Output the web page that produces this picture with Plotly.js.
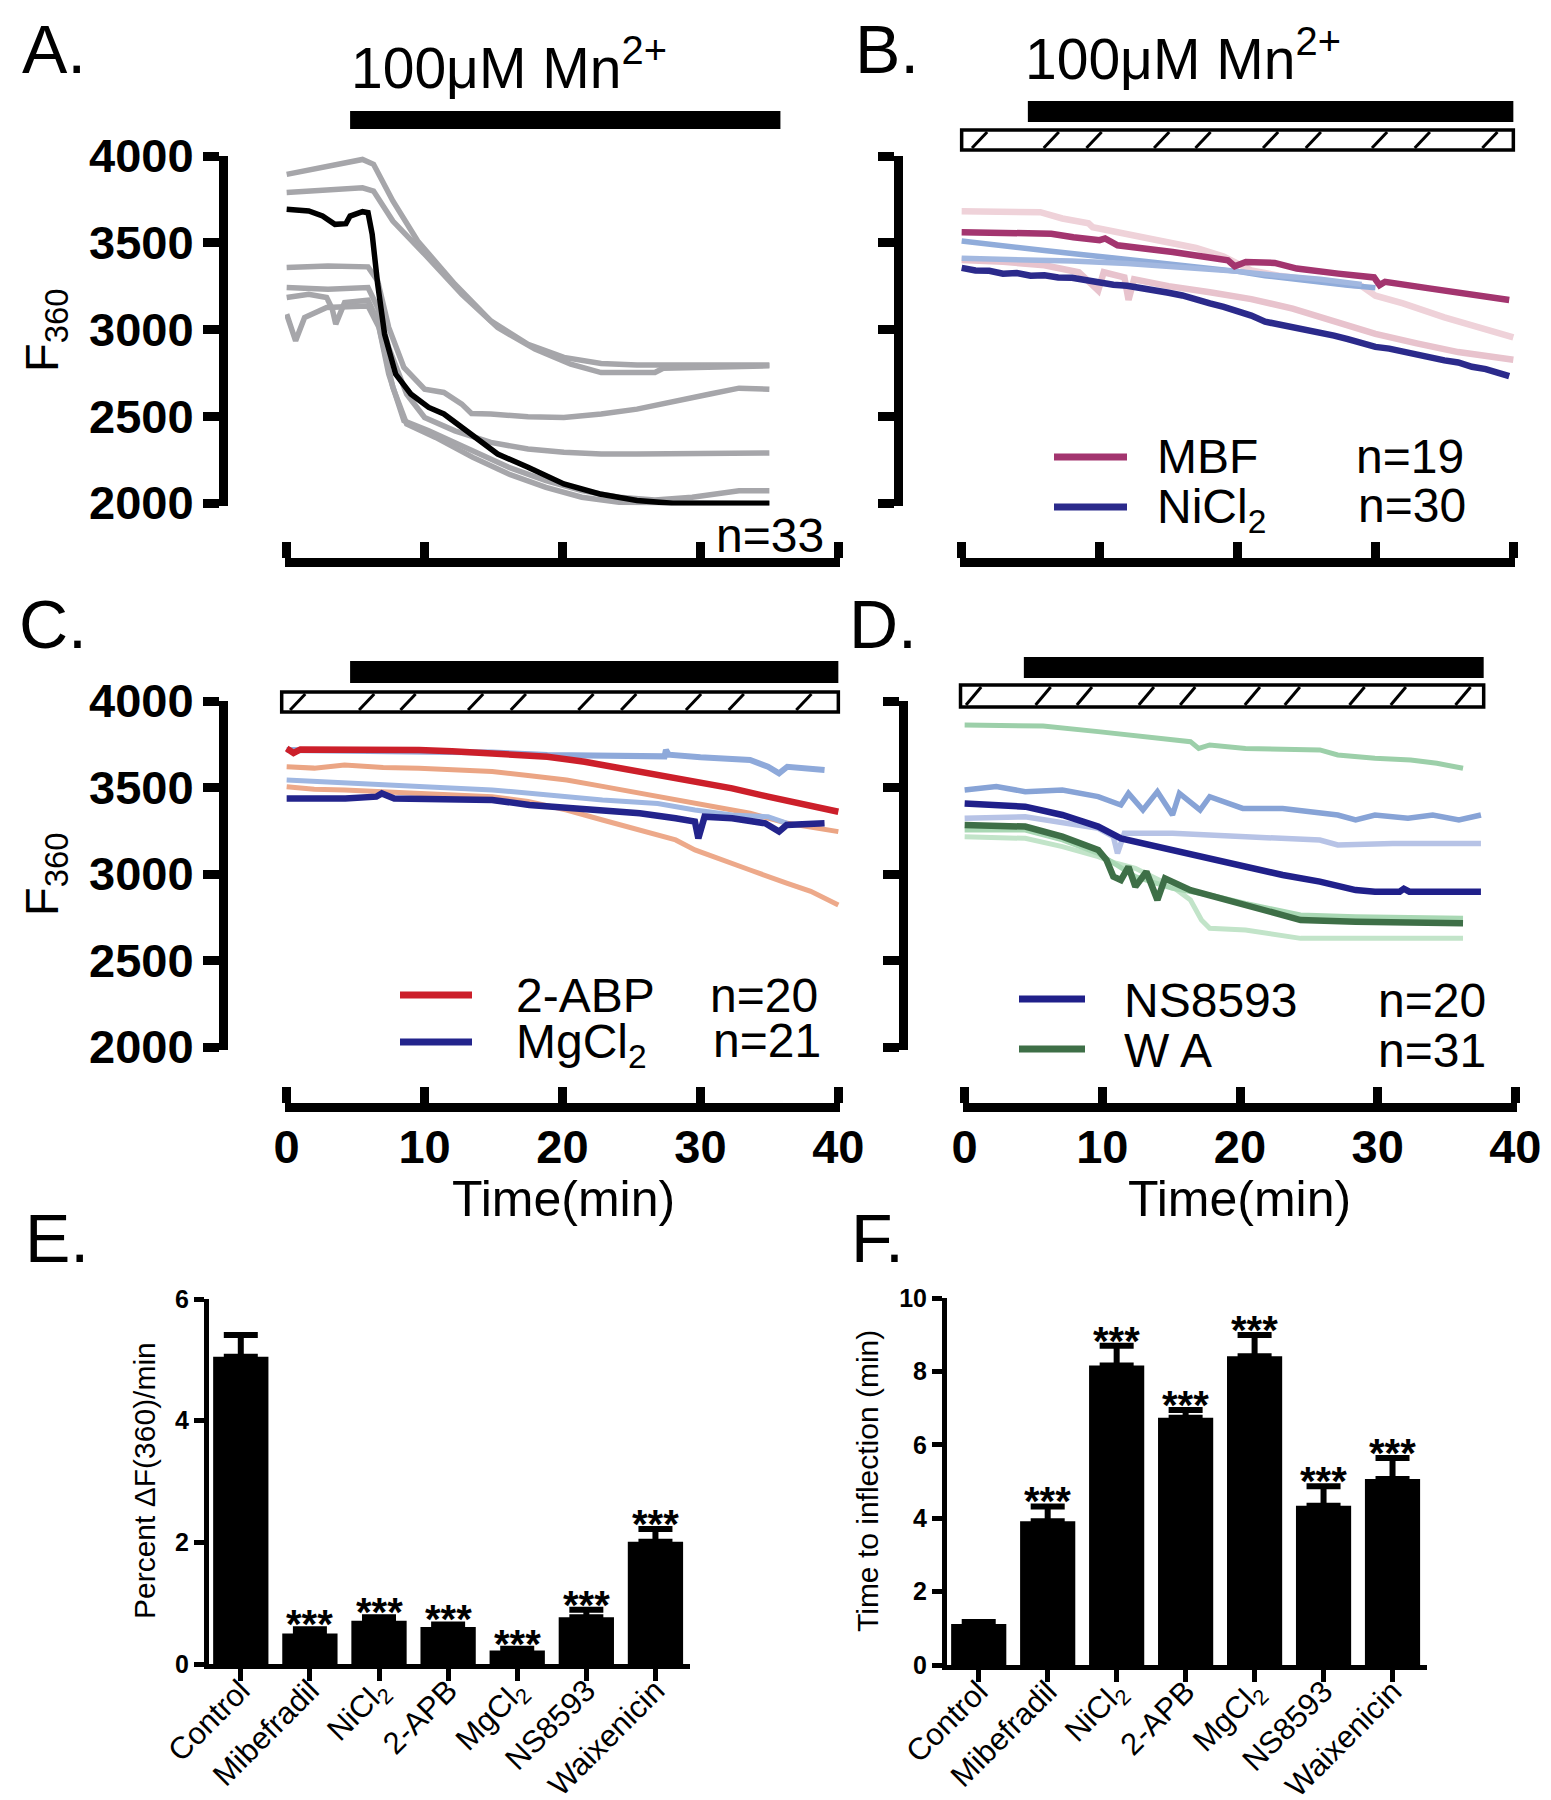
<!DOCTYPE html>
<html>
<head>
<meta charset="utf-8">
<script src="https://cdn.plot.ly/plotly-3.0.1.min.js"></script>
<style>
  body { margin: 0; background: #fff; }
  #fig { width: 1551px; height: 1800px; }
</style>
</head>
<body>
<div id="fig"></div>
<script>
// ---- panel A: control traces (time in min, F360) ----
const aGray1 = [[0,3894],[2.9,3936],[5.5,3980],[6.3,3952],[7.7,3741],[9.5,3510],[12.2,3261],[14.8,3050],[17.5,2915],[20.1,2839],[22.8,2804],[25.4,2796],[35,2796]];
const aGray2 = [[0,3789],[3,3800],[5.5,3817],[6.3,3798],[7.7,3625],[10,3434],[12.7,3203],[15.3,3011],[18,2887],[20.6,2800],[22.8,2752],[26.7,2752],[27.3,2777],[35,2791]];
const aGray3 = [[0,3357],[3,3366],[5.9,3361],[6.6,3280],[7.4,3012],[8.5,2781],[10,2656],[11.4,2637],[12.7,2570],[13.4,2516],[14.8,2513],[17.5,2497],[20.1,2493],[22.8,2513],[25.4,2541],[28,2580],[30.7,2628],[32.8,2662],[35,2656]];
const aGray4 = [[0,3242],[3,3232],[5.9,3242],[6.6,3127],[7.4,2896],[8.7,2628],[10,2493],[12.2,2416],[14.8,2349],[17.5,2311],[20.1,2292],[22.8,2282],[25.4,2282],[35,2288]];
const aGray5 = [[0,3184],[1.6,3203],[2.9,3184],[3.3,3120],[3.56,3031],[4.2,3155],[5.9,3169],[6.6,3050],[7.4,2743],[8.5,2474],[10.3,2416],[13.5,2302],[16.1,2206],[18.8,2129],[21.4,2071],[24.1,2033],[26.7,2017],[29.4,2033],[32.8,2071],[35,2071]];
const aGray6 = [[0,3088],[0.65,2935],[1.3,3069],[2.9,3127],[5.9,3136],[6.7,3012],[7.7,2666],[8.7,2455],[10.8,2378],[13.5,2263],[16.1,2167],[18.8,2090],[21.4,2033],[24.1,2004],[35,1995]];
const aBlack = [[0,3693],[1.6,3683],[2.6,3654],[3.5,3606],[4.3,3610],[4.6,3654],[5.5,3679],[5.9,3673],[6.2,3549],[6.6,3261],[7.1,2973],[7.9,2743],[9,2628],[10.3,2551],[11.4,2513],[12.7,2436],[14,2359],[15.3,2282],[17.5,2206],[20.1,2110],[22.7,2052],[25.4,2014],[28,1998],[35,1998]];

// ---- panel B: mibefradil / NiCl2 ----
const bPink1 = [[0,3681],[3,3680],[5.7,3676],[7.3,3640],[9.2,3612],[9.5,3590],[11,3565],[14,3520],[17,3470],[19,3420],[21,3340],[23,3310],[26,3280],[29,3250],[30,3195],[32,3150],[35,3070],[37.5,3010],[40,2955]];
const bPink2 = [[0,3400],[3,3390],[6,3370],[8.5,3330],[9.9,3225],[10.3,3330],[11.8,3300],[12.1,3170],[12.5,3290],[15,3250],[18,3215],[21,3175],[24,3120],[27,3050],[30,2975],[33,2920],[36,2870],[40,2826]];
const bBlue1 = [[0,3510],[3,3480],[6,3455],[9,3430],[12,3405],[15,3380],[18,3350],[20,3335],[22,3310],[24,3290],[26,3275],[28,3255],[30,3240]];
const bBlue2 = [[0,3410],[4,3405],[8,3395],[12,3380],[16,3360],[20,3335],[23,3310],[26,3290],[29,3260]];
const bMBF = [[0,3561],[3,3555],[6.5,3552],[8.1,3532],[10,3515],[10.4,3525],[11.3,3485],[15.3,3447],[19.3,3399],[19.8,3365],[20.6,3389],[22.7,3384],[24.3,3351],[27.3,3322],[29.9,3300],[30.3,3256],[30.7,3275],[33.9,3237],[37.1,3198],[39.7,3170]];
const bNi = [[0,3355],[1,3340],[2,3338],[3,3322],[4,3325],[5,3310],[6,3312],[7,3300],[8,3298],[9,3282],[10,3275],[11,3258],[12,3252],[13,3240],[14,3230],[15,3212],[16,3196],[17,3170],[18,3150],[19,3130],[20,3105],[21,3080],[22,3045],[23,3030],[24,3012],[25,3000],[26,2982],[27,2965],[28,2945],[29,2920],[30,2900],[31,2890],[32,2872],[33,2860],[34,2840],[35,2822],[36,2810],[37,2785],[38,2772],[39,2750],[39.7,2731]];

// ---- panel C: 2-APB / MgCl2 ----
const cSalmon1 = [[0,3620],[2,3612],[4.2,3630],[7,3615],[9.6,3611],[12,3600],[14.9,3592],[17.5,3570],[20.3,3543],[23,3505],[25.6,3466],[28.2,3428],[31,3389],[33.6,3351],[36.3,3293],[40,3245]];
const cSalmon2 = [[0,3505],[2,3490],[4.2,3486],[7,3475],[9.6,3466],[12,3455],[14.9,3447],[17.5,3420],[20.3,3370],[22.9,3312],[25.6,3254],[28.2,3197],[29.6,3139],[30.9,3100],[33.6,3023],[36.3,2946],[38,2900],[40,2821]];
const cBlue1 = [[0,3717],[3,3715],[6.9,3713],[10,3710],[14.9,3702],[18.9,3688],[22,3684],[25.6,3678],[27.4,3680],[27.5,3717],[27.7,3690],[30,3675],[33.6,3659],[34.9,3620],[35.7,3582],[36.3,3620],[39,3601]];
const cBlue2 = [[0,3543],[3,3530],[6.9,3515],[10,3505],[14.9,3486],[17,3470],[19,3457],[22.9,3428],[26.9,3408],[29.6,3370],[32.3,3341],[34.9,3331],[36.3,3293]];
const cRed = [[0,3726],[0.5,3700],[1,3720],[4.25,3721],[6,3715],[9.6,3717],[12,3710],[14.9,3698],[18.9,3678],[21.6,3649],[24.2,3611],[26.9,3572],[29.6,3534],[32.3,3495],[34.9,3447],[37.6,3399],[40,3360]];
const cMg = [[0,3437],[2,3435],[4.25,3437],[6.5,3447],[6.9,3466],[7.8,3437],[10,3432],[14.9,3428],[17.6,3399],[20.3,3380],[22.9,3370],[25.6,3351],[28.2,3322],[29.6,3303],[29.85,3206],[30.3,3331],[32.3,3322],[34.7,3293],[35.7,3245],[36.25,3283],[39,3293]];

// ---- panel D: NS8593 / waixenicin A ----
const dGreen1 = [[0,3861],[5.7,3855],[9.7,3823],[13.8,3784],[16.4,3765],[17,3726],[17.8,3746],[20.4,3726],[25.8,3717],[27.1,3688],[29.8,3669],[32.4,3659],[34.3,3640],[36.2,3611]];
const dBlue1 = [[0,3485],[2.3,3505],[4.4,3476],[7.1,3485],[9.7,3447],[11.35,3399],[11.9,3466],[12.95,3370],[14,3476],[15.1,3341],[15.6,3466],[17.1,3370],[17.8,3447],[20.2,3379],[23.1,3379],[27.1,3341],[28.4,3312],[29.8,3341],[32.2,3322],[34,3341],[35.9,3312],[37.5,3341]];
const dPale = [[0,3322],[4.4,3331],[9.7,3264],[10.8,3216],[11.1,3119],[11.6,3235],[15.1,3235],[20.4,3216],[25.8,3196],[27.1,3168],[31.1,3177],[37.5,3177]];
const dGreen2 = [[0,3216],[4.4,3206],[7.1,3158],[9.7,3100],[11,3062],[12.4,3033],[15.1,2927],[16.4,2850],[17.2,2734],[17.8,2686],[20.4,2676],[24.4,2628],[28.4,2628],[36.2,2628]];
const dGreen3 = [[0,3254],[4.4,3254],[7.1,3197],[9.7,3119],[12.4,2985],[15.1,2917],[17.8,2879],[20.4,2830],[24.4,2763],[28.4,2753],[36.2,2744]];
const dNS = [[0,3408],[2.3,3399],[4.4,3389],[7.1,3341],[9.7,3274],[11.35,3206],[12.4,3187],[15.1,3139],[17.8,3090],[20.4,3042],[23.1,2994],[25.8,2956],[28.4,2907],[29.8,2898],[31.6,2898],[31.9,2915],[32.3,2898],[37.5,2898]];
const dWA = [[0,3283],[4.4,3274],[7.1,3216],[9.7,3139],[10.3,3081],[10.8,2985],[11.35,2965],[11.9,3042],[12.4,2927],[13.2,3013],[14,2850],[14.55,2975],[16.4,2907],[19.1,2850],[21.8,2792],[24.4,2734],[28.4,2724],[32.4,2715],[36.2,2715]];

// ---- protocol bars (min) ----
const mnA = [4.6, 35.8], mnB = [4.8, 40], mnC = [4.6, 40], mnD = [4.3, 37.7];
const drugB = [0, 40], drugC = [-0.36, 40], drugD = [-0.3, 37.7];
const hatchB = [1.3, 6.5, 9.6, 14.5, 17.5, 22.4, 25.5, 30.3, 33.4, 38.3];
const hatchC = [0.8, 5.8, 8.8, 13.7, 16.8, 21.7, 24.8, 29.5, 32.6, 37.5];
const hatchD = [0.65, 5.7, 8.7, 13.2, 16.2, 20.9, 23.8, 28.5, 31.5, 36.2];

// ---- panels E / F ----
const groups = ['Control', 'Mibefradil', 'NiCl<sub>2</sub>', '2-APB', 'MgCl<sub>2</sub>', 'NS8593', 'Waixenicin'];
const rate = [5.05, 0.50, 0.71, 0.61, 0.22, 0.77, 2.01];
const rateErr = [0.36, 0.07, 0.06, 0.04, 0.03, 0.12, 0.21];
const inflect = [1.12, 3.92, 8.16, 6.74, 8.41, 4.34, 5.07];
const inflectErr = [0.05, 0.40, 0.54, 0.21, 0.58, 0.53, 0.57];
const stars = ['', '***', '***', '***', '***', '***', '***'];

const W = 1551, H = 1800;
const fx = p => p / W;
const fy = p => 1 - p / H;
const FONT = 'Liberation Sans, Arial, sans-serif';
const XR = [-0.12, 40.12];   // a hair wider than 0-40 so the end ticks are kept
const dom = t => (t - XR[0]) / (XR[1] - XR[0]);

function trace(pts, color, width, xa, ya) {
    return {
        type: 'scatter', mode: 'lines',
        x: pts.map(p => p[0]), y: pts.map(p => p[1]),
        xaxis: xa, yaxis: ya,
        line: { color: color, width: width },
        hoverinfo: 'skip', showlegend: false
    };
}

const GRAY = '#a6a6aa';
const data = [
    trace(aGray1, GRAY, 5.5, 'x', 'y'),
    trace(aGray2, GRAY, 5.5, 'x', 'y'),
    trace(aGray3, GRAY, 5.5, 'x', 'y'),
    trace(aGray4, GRAY, 5.5, 'x', 'y'),
    trace(aGray5, GRAY, 5.5, 'x', 'y'),
    trace(aGray6, GRAY, 5.5, 'x', 'y'),
    trace(aBlack, '#000000', 5.5, 'x', 'y'),

    trace(bPink1, '#efd2d9', 6.5, 'x2', 'y2'),
    trace(bPink2, '#e8c3cd', 6.5, 'x2', 'y2'),
    trace(bBlue1, '#90acda', 5.5, 'x2', 'y2'),
    trace(bBlue2, '#a2b8e0', 5.5, 'x2', 'y2'),
    trace(bMBF, '#a3356f', 6.5, 'x2', 'y2'),
    trace(bNi, '#2b2a8b', 6.5, 'x2', 'y2'),

    trace(cSalmon1, '#eba584', 5, 'x3', 'y3'),
    trace(cSalmon2, '#eda98a', 5, 'x3', 'y3'),
    trace(cBlue1, '#8ea9da', 6, 'x3', 'y3'),
    trace(cBlue2, '#9fb7e2', 5, 'x3', 'y3'),
    trace(cRed, '#cc1f2a', 6.5, 'x3', 'y3'),
    trace(cMg, '#23248c', 6.5, 'x3', 'y3'),

    trace(dGreen1, '#9ccfa9', 5, 'x4', 'y4'),
    trace(dGreen2, '#c2e4c9', 5, 'x4', 'y4'),
    trace(dGreen3, '#a9d8b4', 5, 'x4', 'y4'),
    trace(dBlue1, '#87a3d6', 5.5, 'x4', 'y4'),
    trace(dPale, '#b7c3e6', 5.5, 'x4', 'y4'),
    trace(dWA, '#3e6f47', 6.5, 'x4', 'y4'),
    trace(dNS, '#20208a', 6.5, 'x4', 'y4'),

    {
        type: 'bar', x: [0, 1, 2, 3, 4, 5, 6], y: rate, xaxis: 'x5', yaxis: 'y5',
        width: 0.8, marker: { color: '#000' }, hoverinfo: 'skip', showlegend: false,
        error_y: { type: 'data', array: rateErr, arrayminus: rate.map(() => 0), symmetric: false,
                   color: '#000', thickness: 6, width: 17 }
    },
    {
        type: 'bar', x: [0, 1, 2, 3, 4, 5, 6], y: inflect, xaxis: 'x6', yaxis: 'y6',
        width: 0.8, marker: { color: '#000' }, hoverinfo: 'skip', showlegend: false,
        error_y: { type: 'data', array: inflectErr, arrayminus: inflect.map(() => 0), symmetric: false,
                   color: '#000', thickness: 6, width: 17 }
    }
];

// time axes of the trace panels
function timeAxis(left, right, yLine, labels) {
    return {
        domain: [fx(left), fx(right)], range: XR, anchor: 'free', position: fy(yLine),
        showline: true, linewidth: 9, linecolor: '#000',
        ticks: 'inside', ticklen: 16, tickwidth: 9, tickcolor: '#000',
        tickvals: [0, 10, 20, 30, 40], showticklabels: labels, ticklabelstandoff: -5,
        tickfont: { family: FONT, size: 47, weight: 'bold', color: '#000' },
        showgrid: false, zeroline: false
    };
}
function fluoAxis(top, bottom, xLine, labels) {
    const per = (bottom - top) / 2000;
    return {
        domain: [fy(bottom + 15 * per), fy(top)], range: [1985, 4000], anchor: 'free', position: fx(xLine),
        showline: true, linewidth: 9, linecolor: '#000',
        ticks: 'outside', ticklen: 16, tickwidth: 9, tickcolor: '#000',
        tickvals: [2000, 2500, 3000, 3500, 4000], showticklabels: labels,
        tickfont: { family: FONT, size: 47, weight: 'bold', color: '#000' },
        showgrid: false, zeroline: false
    };
}
function catAxis(left, right, yAx) {
    return {
        domain: [fx(left), fx(right)], range: [-0.46, 6.5], anchor: yAx,
        showline: true, linewidth: 5, linecolor: '#000',
        ticks: 'outside', ticklen: 12, tickwidth: 5, tickcolor: '#000',
        tickvals: [0, 1, 2, 3, 4, 5, 6], ticktext: groups, tickangle: -45,
        ticklabelstandoff: -21,
        tickfont: { family: FONT, size: 31, color: '#000' },
        showgrid: false, zeroline: false
    };
}
function valAxis(bottom, top, xAx, max, step) {
    const vals = [];
    for (let v = 0; v <= max; v += step) vals.push(v);
    return {
        domain: [fy(bottom), fy(top)], range: [0, max], anchor: xAx,
        showline: true, linewidth: 5, linecolor: '#000',
        ticks: 'outside', ticklen: 10, tickwidth: 5, tickcolor: '#000',
        tickvals: vals, tickfont: { family: FONT, size: 25, weight: 'bold', color: '#000' },
        showgrid: false, zeroline: false
    };
}

// protocol bars (Mn2+ black bar, hatched drug bar)
const shapes = [];
function blackBar(xa, span, y0, y1) {
    shapes.push({ type: 'rect', xref: xa + ' domain', yref: 'paper',
        x0: dom(span[0]), x1: dom(span[1]), y0: fy(y1), y1: fy(y0),
        fillcolor: '#000', line: { width: 0 } });
}
function hatchBar(xa, span, ticks, y0, y1) {
    shapes.push({ type: 'rect', xref: xa + ' domain', yref: 'paper',
        x0: dom(span[0]), x1: dom(span[1]), y0: fy(y1), y1: fy(y0),
        fillcolor: '#fff', line: { color: '#000', width: 3.5 } });
    ticks.forEach(t => shapes.push({ type: 'line', xref: xa + ' domain', yref: 'paper',
        x0: dom(t - 0.55), x1: dom(t + 0.55), y0: fy(y1 - 2), y1: fy(y0 + 2),
        line: { color: '#000', width: 3 } }));
}
blackBar('x', mnA, 111, 129);
blackBar('x2', mnB, 101, 122);
hatchBar('x2', drugB, hatchB, 130, 150);
blackBar('x3', mnC, 661, 683);
hatchBar('x3', drugC, hatchC, 692, 712);
blackBar('x4', mnD, 657, 678);
hatchBar('x4', drugD, hatchD, 685, 707);

// legend keys
function key(x0, x1, y, color) {
    shapes.push({ type: 'line', xref: 'paper', yref: 'paper', x0: fx(x0), x1: fx(x1), y0: fy(y), y1: fy(y),
        line: { color: color, width: 7 } });
}
key(1054, 1127, 457, '#a3356f');
key(1054, 1127, 507, '#2b2a8b');
key(400, 472, 995, '#cc1f2a');
key(400, 472, 1042, '#23248c');
key(1019, 1085, 999, '#20208a');
key(1019, 1085, 1049, '#3e6f47');

const annotations = [];
function label(text, x, y, size, opts) {
    annotations.push(Object.assign({
        text: text, xref: 'paper', yref: 'paper', x: fx(x), y: fy(y),
        xanchor: 'left', yanchor: 'middle', showarrow: false,
        font: { family: FONT, size: size, color: '#000' }
    }, opts || {}));
}
label('A.', 20, 49, 68);
label('B.', 853, 49, 68);
label('C.', 17, 624, 68);
label('D.', 847, 624, 68);
label('E.', 23, 1238, 68);
label('F.', 849, 1238, 68);
label('100\u03bcM Mn<sup>2+</sup>', 349, 64, 57);
label('100\u03bcM Mn<sup>2+</sup>', 1023, 55, 57);
label('F<sub>360</sub>', 45, 330, 47, { xanchor: 'center', textangle: -90 });
label('F<sub>360</sub>', 45, 874, 47, { xanchor: 'center', textangle: -90 });
label('n=33', 714, 535, 48);
label('MBF', 1155, 457, 48);
label('n=19', 1354, 457, 48);
label('NiCl<sub>2</sub>', 1155, 510, 48);
label('n=30', 1356, 505, 48);
label('2-ABP', 514, 995, 48);
label('n=20', 708, 995, 48);
label('MgCl<sub>2</sub>', 514, 1045, 48);
label('n=21', 711, 1040, 48);
label('NS8593', 1122, 1000, 48);
label('n=20', 1376, 1000, 48);
label('W A', 1122, 1050, 48);
label('n=31', 1376, 1050, 48);
label('Time(min)', 563, 1199, 50, { xanchor: 'center' });
label('Time(min)', 1239, 1199, 50, { xanchor: 'center' });
label('Percent \u0394F(360)/min', 144, 1481, 30, { xanchor: 'center', textangle: -90 });
label('Time to inflection (min)', 867, 1481, 30, { xanchor: 'center', textangle: -90 });

stars.forEach((s, i) => {
    if (!s) return;
    annotations.push({ text: s, x: i, y: rate[i] + rateErr[i], xref: 'x5', yref: 'y5',
        yanchor: 'bottom', yshift: -19, showarrow: false,
        font: { family: FONT, size: 40, weight: 'bold', color: '#000' } });
    annotations.push({ text: s, x: i, y: inflect[i] + inflectErr[i], xref: 'x6', yref: 'y6',
        yanchor: 'bottom', yshift: -19, showarrow: false,
        font: { family: FONT, size: 40, weight: 'bold', color: '#000' } });
});

const layout = {
    width: W, height: H,
    margin: { l: 0, r: 0, t: 0, b: 0 },
    paper_bgcolor: '#fff', plot_bgcolor: 'rgba(0,0,0,0)',
    showlegend: false,
    font: { family: FONT, color: '#000' },
    xaxis: timeAxis(285, 840, 562, false),
    yaxis: fluoAxis(156, 503, 223, true),
    xaxis2: timeAxis(960, 1515, 562, false),
    yaxis2: fluoAxis(156, 503, 898, false),
    xaxis3: timeAxis(285, 840, 1107, true),
    yaxis3: fluoAxis(701, 1047, 223, true),
    xaxis4: timeAxis(963, 1517, 1107, true),
    yaxis4: fluoAxis(701, 1047, 903, false),
    xaxis5: catAxis(209, 690, 'y5'),
    yaxis5: valAxis(1664, 1299, 'x5', 6, 2),
    xaxis6: catAxis(947, 1427, 'y6'),
    yaxis6: valAxis(1665, 1298, 'x6', 10, 2),
    shapes: shapes,
    annotations: annotations
};

Plotly.newPlot('fig', data, layout, { staticPlot: true });
</script>
</body>
</html>
